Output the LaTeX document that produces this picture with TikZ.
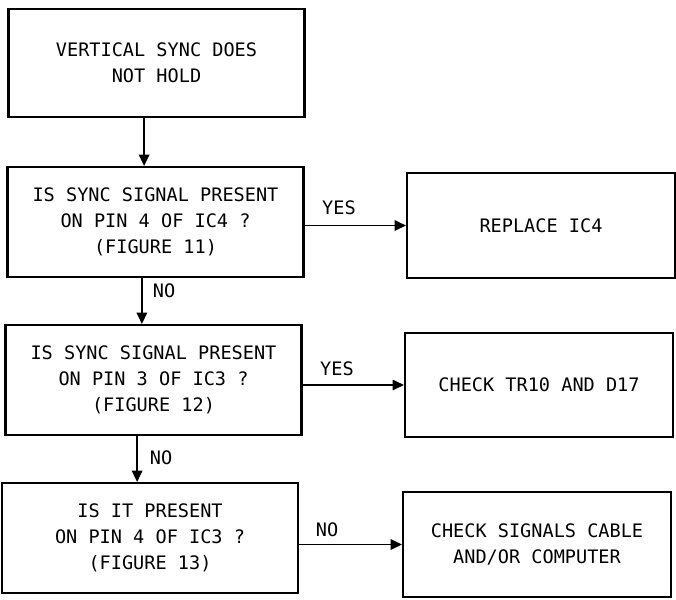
\documentclass[tikz,border=0pt]{standalone}
\usepackage{fontspec}
\setmonofont{DejaVu Sans Mono}
\usetikzlibrary{arrows.meta,positioning}

\begin{document}
\begin{tikzpicture}[
    x=0.025cm, y=-0.025cm,
    font=\ttfamily\fontsize{13.2}{18.5}\selectfont,
    >={Triangle[width=7.5pt,length=8pt]},
    qbox/.style={draw, line width=1.5pt, align=center, inner sep=2pt,
                 minimum width=7.4cm, minimum height=2.75cm},
    actbox/.style={qbox, minimum width=6.7cm, minimum height=2.62cm},
    lbl/.style={inner sep=1pt},
    arr/.style={->, line width=0.9pt}
  ]

  % fixed frame, same proportions as the scan
  \useasboundingbox (0,0) rectangle (676,599);

  % ---------- left column: the checks ------------------------------------
  \node[qbox, minimum height=2.7cm] (hold) at (156.5,63) {VERTICAL SYNC DOES\\NOT HOLD};
  \node[qbox] (q1) at (155.5,222) {IS SYNC SIGNAL PRESENT\\ON PIN 4 OF IC4 ?\\(FIGURE 11)};
  \node[qbox] (q2) at (153.5,380) {IS SYNC SIGNAL PRESENT\\ON PIN 3 OF IC3 ?\\(FIGURE 12)};
  \node[qbox] (q3) at (150,538)   {IS IT PRESENT\\ON PIN 4 OF IC3 ?\\(FIGURE 13)};

  % ---------- right column: the actions ----------------------------------
  \node[actbox] (rep) at (541,225.5) {REPLACE IC4};
  \node[actbox] (chk) at (539,385)   {CHECK TR10 AND D17};
  \node[actbox] (cab) at (537,544.5) {CHECK SIGNALS CABLE\\AND/OR COMPUTER};

  % ---------- flow down (arrows sit left of centre, as drawn) -------------
  \draw[arr] ([xshift=-0.31cm]hold.south) -- ([xshift=-0.31cm]hold.south |- q1.north);
  \draw[arr] ([xshift=-0.34cm]q1.south)   -- ([xshift=-0.34cm]q1.south |- q2.north);
  \draw[arr] ([xshift=-0.41cm]q2.south)   -- ([xshift=-0.41cm]q2.south |- q3.north);

  % ---------- branches to the right ---------------------------------------
  \draw[arr] (q1.east |- rep.west) -- (rep.west);
  \draw[arr] (q2.east |- chk.west) -- (chk.west);
  \draw[arr] (q3.east |- cab.west) -- (cab.west);

  % ---------- answers -----------------------------------------------------
  \node[lbl] (yes1) at (339,208) {YES};
  \node[lbl] (yes2) at (337,369) {YES};
  \node[lbl] (no3)  at (327,530) {NO};
  \node[lbl] (no1)  at (164,291) {NO};
  \node[lbl] (no2)  at (161,458) {NO};

\end{tikzpicture}
\end{document}
